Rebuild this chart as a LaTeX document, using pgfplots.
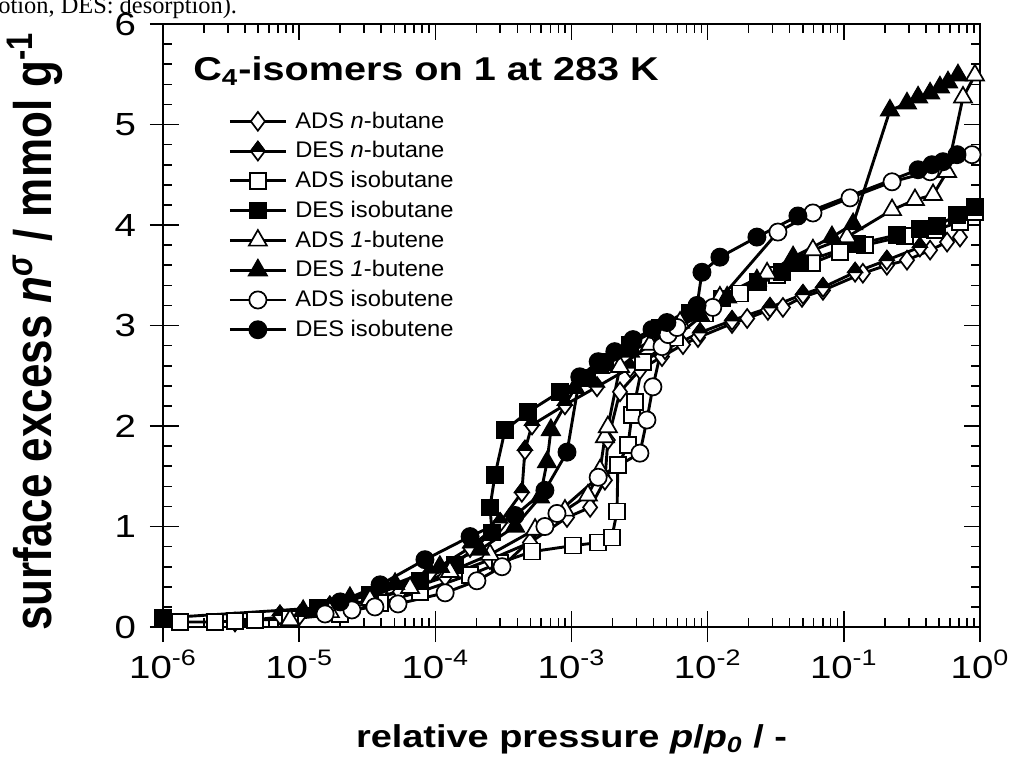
\documentclass[border=0pt]{standalone}
\usepackage{fontspec}
\setmainfont{Liberation Sans}[FakeStretch=1.2]
\newfontfamily\ylfont{Liberation Sans}
\newfontfamily\legfont{Liberation Sans}[FakeStretch=1.05]
\newfontfamily\capfont{Liberation Serif}
\usepackage{graphicx}
\usepackage{pgfplots}
\pgfplotsset{compat=1.18}
\pgfdeclareplotmark{halfdiamond}{%
  \pgfpathmoveto{\pgfqpoint{0pt}{\pgfplotmarksize}}%
  \pgfpathlineto{\pgfqpoint{.75\pgfplotmarksize}{0pt}}%
  \pgfpathlineto{\pgfqpoint{0pt}{-\pgfplotmarksize}}%
  \pgfpathlineto{\pgfqpoint{-.75\pgfplotmarksize}{0pt}}%
  \pgfpathclose
  \pgfsetfillcolor{white}\pgfusepathqfillstroke
  \pgfpathmoveto{\pgfqpoint{0pt}{\pgfplotmarksize}}%
  \pgfpathlineto{\pgfqpoint{.75\pgfplotmarksize}{0pt}}%
  \pgfpathlineto{\pgfqpoint{-.75\pgfplotmarksize}{0pt}}%
  \pgfpathclose
  \pgfsetfillcolor{black}\pgfusepathqfillstroke
}
\begin{document}
\begin{tikzpicture}[x=1pt,y=1pt]
\useasboundingbox (0,0) rectangle (505,378.5);
\node[anchor=base west, inner sep=0pt, font=\capfont\fontsize{12.2}{12.2}\selectfont] at (-1,371.5) {otion, DES: desorption).};
\begin{axis}[
  at={(81.5pt,65pt)}, anchor=south west,
  scale only axis, width=408.5pt, height=301.5pt,
  xmode=log, xmin=1e-6, xmax=1, ymin=0, ymax=6,
  axis line style={line width=0.9pt},
  every tick/.style={black, line width=0.8pt},
  tick align=inside,
  major tick length=8pt, minor tick length=4.5pt,
  xtick={1e-6,1e-5,1e-4,1e-3,1e-2,1e-1,1},
  xticklabels={10\textsuperscript{-6},10\textsuperscript{-5},10\textsuperscript{-4},10\textsuperscript{-3},10\textsuperscript{-2},10\textsuperscript{-1},10\textsuperscript{0}},
  ytick={0,1,2,3,4,5,6},
  yticklabels={0,1,2,3,4,5,6},
  minor y tick num=4,
  extra x ticks={1e-6,1e-5,1e-4,1e-3,1e-2,1e-1,1},
  extra x tick labels={},
  extra x tick style={tick align=outside, major tick length=7.5pt, xtick pos=bottom},
  extra y ticks={0,1,2,3,4,5,6},
  extra y tick labels={},
  extra y tick style={tick align=outside, major tick length=6.5pt, ytick pos=left},
  ticklabel style={font=\fontsize{16}{16}\selectfont},
  xticklabel style={yshift=-8pt},
  yticklabel style={xshift=-10pt},
  xlabel={\bfseries relative pressure \textit{p}/\textit{p}\textsubscript{\textit{0}} / -},
  every axis x label/.style={at={(axis description cs:0.5,-0.199)}, anchor=base, font=\fontsize{15.8}{15.8}\selectfont},
  ylabel={\scalebox{1}[1.2]{\ylfont\bfseries surface excess \textit{n}\textsuperscript{\textit{σ}} / mmol g\textsuperscript{-1}}},
  every axis y label/.style={at={(axis description cs:-0.137,0.49)}, rotate=90, anchor=base, font=\fontsize{22}{22}\selectfont},
  legend style={at={(0.0796,0.862)}, anchor=north west, draw=none, fill=none, inner sep=0pt,
    font=\legfont\fontsize{11.3}{11.3}\selectfont, row sep=1.2pt,
    /tikz/every even column/.append style={column sep=0pt}},
  legend cell align=left,
  legend image code/.code={
    \draw[mark repeat=2,mark phase=2] plot coordinates {(0pt,0pt) (14pt,0pt) (28pt,0pt)};
    \path (30pt,0pt);
  },
]
% ADS n-butane
\addplot[black, line width=1.45pt, mark=diamond*, mark size=4.7pt, mark options={solid, fill=white, line width=0.85pt}] coordinates {
(3.38e-6,0.05) (1.01e-5,0.12) (2.36e-5,0.22) (5.5e-5,0.35) (1.18e-4,0.50) (2.52e-4,0.67) (4.95e-4,0.84) (9.27e-4,1.09) (1.37e-3,1.19) (1.76e-3,1.46) (1.85e-3,1.86) (2.27e-3,2.34) (3.18e-3,2.56) (4.62e-3,2.69) (6.59e-3,2.81) (8.49e-3,2.88) (0.0151,3.02) (0.0195,3.07) (0.0277,3.15) (0.0357,3.18) (0.0493,3.28) (0.0703,3.35) (0.138,3.52) (0.207,3.60) (0.291,3.65) (0.43,3.75) (0.573,3.83) (0.713,3.88)
};
\addlegendentry{ADS \textit{n}-butane}
% DES n-butane
\addplot[black, line width=1.45pt, mark=halfdiamond, mark size=4.7pt, mark options={solid, line width=0.85pt}] coordinates {
(0.362,3.78) (0.207,3.65) (0.121,3.53) (0.0703,3.38) (0.0501,3.31) (0.0287,3.18) (0.0151,3.05) (8.79e-3,2.93) (4.86e-3,2.76) (2.69e-3,2.58) (1.54e-3,2.39) (8.95e-4,2.21) (5.13e-4,2.01) (4.55e-4,1.76) (4.32e-4,1.34) (2.99e-4,1.04) (1.8e-4,0.79) (9.14e-5,0.54) (3.93e-5,0.35) (1.68e-5,0.21) (7.23e-6,0.12)
};
\addlegendentry{DES \textit{n}-butane}
% ADS isobutane
\addplot[black, line width=1.45pt, mark=square*, mark size=4pt, mark options={solid, fill=white, line width=0.85pt}] coordinates {
(1.33e-6,0.05) (2.41e-6,0.05) (3.38e-6,0.06) (4.74e-6,0.07) (8.57e-6,0.08) (2.0e-5,0.13) (3.93e-5,0.24) (7.7e-5,0.35) (1.8e-4,0.52) (2.99e-4,0.64) (5.13e-4,0.75) (1.03e-3,0.81) (1.57e-3,0.84) (1.98e-3,0.89) (2.16e-3,1.15) (2.19e-3,1.61) (2.6e-3,1.81) (2.78e-3,2.11) (2.92e-3,2.24) (3.35e-3,2.64) (5.75e-3,2.88) (9.55e-3,3.12) (0.01726,3.32) (0.0323,3.50) (0.0583,3.62) (0.0938,3.73) (0.143,3.80) (0.281,3.89) (0.467,3.95) (0.713,4.03) (0.918,4.13)
};
\addlegendentry{ADS isobutane}
% DES isobutane
\addplot[black, line width=1.45pt, mark=square*, mark size=4pt, mark options={solid, fill=black, line width=0.85pt}] coordinates {
(0.918,4.18) (0.678,4.10) (0.483,3.99) (0.362,3.96) (0.245,3.90) (0.125,3.81) (0.0477,3.62) (0.0352,3.53) (0.0234,3.43) (0.0127,3.27) (7.4e-3,3.13) (4.47e-3,2.98) (2.69e-3,2.81) (1.76e-3,2.64) (1.3e-3,2.48) (8.22e-4,2.34) (4.79e-4,2.14) (3.25e-4,1.96) (2.74e-4,1.51) (2.52e-4,1.19) (2.61e-4,0.94) (1.39e-4,0.62) (7.7e-5,0.46) (3.31e-5,0.32) (1.37e-5,0.19) (1e-6,0.09)
};
\addlegendentry{DES isobutane}
% ADS 1-butene
\addplot[black, line width=1.45pt, mark=triangle*, mark size=5.2pt, mark options={solid, fill=white, line width=0.85pt}] coordinates {
(8.57e-6,0.07) (1.68e-5,0.15) (3.31e-5,0.27) (6.52e-5,0.39) (1.28e-4,0.55) (2.52e-4,0.72) (5.4e-4,0.97) (8.95e-4,1.16) (1.32e-3,1.31) (1.62e-3,1.56) (1.76e-3,1.89) (1.85e-3,1.99) (2.27e-3,2.59) (3.77e-3,2.81) (6.27e-3,3.03) (0.0123,3.28) (0.0273,3.52) (0.0593,3.75) (0.1054,3.88) (0.226,4.15) (0.333,4.25) (0.452,4.30) (0.573,4.53) (0.75,5.27) (0.918,5.49)
};
\addlegendentry{ADS \textit{1}-butene}
% DES 1-butene
\addplot[black, line width=1.45pt, mark=triangle*, mark size=5.2pt, mark options={solid, fill=black, line width=0.85pt}] coordinates {
(0.689,5.49) (0.582,5.42) (0.508,5.37) (0.43,5.31) (0.351,5.27) (0.291,5.21) (0.218,5.14) (0.117,4.01) (0.0818,3.88) (0.0424,3.68) (0.023,3.45) (0.0139,3.28) (8.79e-3,3.10) (4.86e-3,2.91) (2.69e-3,2.74) (1.62e-3,2.58) (1.06e-3,2.38) (7.06e-4,1.96) (6.61e-4,1.64) (5.87e-4,1.29) (3.85e-4,1.00) (2.13e-4,0.77) (1.08e-4,0.60) (5.06e-5,0.43) (2.36e-5,0.29) (1.07e-5,0.16)
};
\addlegendentry{DES \textit{1}-butene}
% ADS isobutene
\addplot[black, line width=1.45pt, mark=*, mark size=4.3pt, mark options={solid, fill=white, line width=0.85pt}] coordinates {
(1.55e-5,0.13) (2.44e-5,0.17) (3.6e-5,0.20) (5.32e-5,0.23) (1.18e-4,0.34) (2.02e-4,0.46) (3.09e-4,0.60) (6.38e-4,1.00) (7.82e-4,1.13) (1.57e-3,1.49) (3.18e-3,1.73) (3.58e-3,2.06) (3.96e-3,2.39) (4.62e-3,2.79) (5.12e-3,2.91) (5.96e-3,2.98) (0.0109,3.18) (0.0328,3.93) (0.0593,4.12) (0.111,4.27) (0.226,4.43) (0.43,4.53) (0.873,4.70)
};
\addlegendentry{ADS isobutene}
% DES isobutene
\addplot[black, line width=1.45pt, mark=*, mark size=4.3pt, mark options={solid, fill=black, line width=0.85pt}] coordinates {
(0.678,4.70) (0.535,4.63) (0.444,4.60) (0.351,4.55) (0.046,4.09) (0.023,3.88) (0.0123,3.68) (9.08e-3,3.53) (8.36e-3,3.20) (5.02e-3,3.03) (3.9e-3,2.96) (2.83e-3,2.86) (2.08e-3,2.74) (1.57e-3,2.64) (1.15e-3,2.49) (9.27e-4,1.74) (6.38e-4,1.36) (3.85e-4,1.11) (1.8e-4,0.90) (8.39e-5,0.67) (3.93e-5,0.42) (2.0e-5,0.25)
};
\addlegendentry{DES isobutene}
\node[anchor=base west, inner sep=0pt, font=\bfseries\fontsize{16.5}{16.5}\selectfont] at (rel axis cs:0.0367,0.907) {C\textsubscript{4}-isomers on 1 at 283 K};
\end{axis}
\end{tikzpicture}
\end{document}
